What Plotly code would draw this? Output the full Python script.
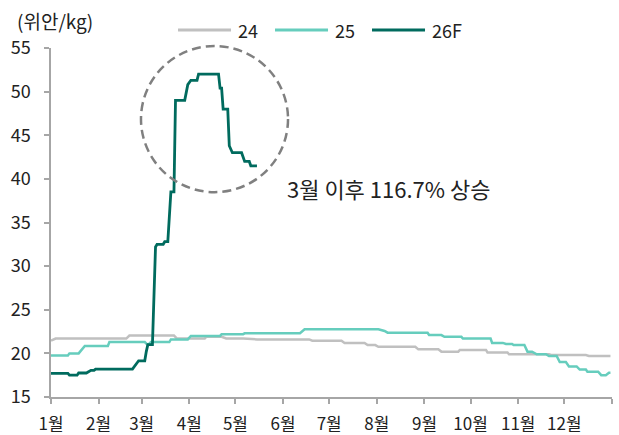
import plotly.graph_objects as go

# Seasons are overlaid on a common calendar year (non-leap)
BASE_YEAR = 2026

# 24 season: (month-day, price in CNY/kg)
days_24 = ["01-01", "01-04", "02-19", "02-21", "03-22", "03-24", "04-11", "04-12",
           "04-22", "04-25", "05-06", "05-15", "06-18", "06-20", "07-09", "07-11",
           "07-24", "07-26", "07-31", "08-02", "08-26", "08-28", "09-10", "09-12",
           "09-23", "09-24", "10-11", "10-12", "10-25", "10-26", "11-21", "11-23",
           "12-15", "12-17", "12-31"]
price_24 = [21.45, 21.7, 21.7, 22.05, 22.05, 21.7, 21.7, 21.9,
            21.9, 21.7, 21.7, 21.6, 21.6, 21.45, 21.45, 21.2,
            21.2, 20.95, 20.95, 20.76, 20.76, 20.46, 20.46, 20.2,
            20.2, 20.4, 20.4, 20.1, 20.1, 19.9, 19.9, 19.8,
            19.8, 19.7, 19.7]

# 25 season
days_25 = ["01-01", "01-12", "01-13", "01-19", "01-23", "02-07", "02-08", "03-03",
           "03-05", "03-07", "03-19", "03-20", "03-31", "04-02", "04-21", "04-22",
           "05-06", "05-07", "06-12", "06-15", "08-02", "08-06", "08-08", "09-03",
           "09-04", "09-12", "09-14", "09-25", "09-26", "10-14", "10-15", "10-22",
           "10-24", "10-28", "10-29", "11-05", "11-07", "11-10", "11-13", "11-19",
           "11-21", "11-26", "11-28", "12-02", "12-04", "12-09", "12-11", "12-15",
           "12-16", "12-23", "12-25", "12-28", "12-30", "12-31"]
price_25 = [19.75, 19.75, 20.0, 20.0, 20.85, 20.85, 21.3, 21.3,
            20.95, 21.3, 21.3, 21.6, 21.6, 22.0, 22.0, 22.2,
            22.2, 22.3, 22.3, 22.76, 22.76, 22.57, 22.37, 22.37,
            22.1, 22.1, 21.9, 21.9, 21.7, 21.7, 21.2, 21.2,
            21.07, 21.07, 20.95, 20.95, 20.2, 20.2, 19.9, 19.9,
            19.7, 19.7, 19.0, 19.0, 18.5, 18.5, 18.15, 18.15,
            17.9, 17.9, 17.5, 17.5, 17.77, 17.77]

# 26F season (year to date)
days_26 = ["01-01", "01-12", "01-13", "01-18", "01-19", "01-24", "01-27", "01-29",
           "01-30", "02-23", "02-27", "03-03", "03-04", "03-05", "03-07", "03-08",
           "03-10", "03-11", "03-15", "03-16", "03-18", "03-20", "03-22", "03-23",
           "03-29", "03-31", "04-02", "04-06", "04-07", "04-20", "04-21", "04-22",
           "04-23", "04-26", "04-27", "04-29", "05-05", "05-07", "05-10", "05-11",
           "05-15"]
price_26 = [17.7, 17.7, 17.5, 17.5, 17.75, 17.75, 18.05, 18.05,
            18.2, 18.2, 19.15, 19.15, 20.2, 21.0, 21.0, 21.0,
            32.2, 32.5, 32.5, 32.8, 32.8, 38.5, 38.5, 49.0,
            49.0, 50.8, 51.3, 51.3, 52.0, 52.0, 50.4, 50.4,
            48.0, 48.0, 43.8, 43.0, 43.0, 42.0, 42.0, 41.5,
            41.5]

series_names = ["24", "25", "26F"]
series_colors = ["#c0c0c0", "#66cdbd", "#006b5e"]
series_widths = [2.5, 2.5, 2.8]

month_labels = ["1월", "2월", "3월", "4월", "5월", "6월",
                "7월", "8월", "9월", "10월", "11월", "12월"]
y_ticks = [15, 20, 25, 30, 35, 40, 45, 50, 55]

annotation_text = "3월 이후 116.7% 상승"
unit_text = "(위안/kg)"

FONT = "Noto Sans CJK KR, Noto Sans, sans-serif"
TEXT_COLOR = "#222222"
AXIS_COLOR = "#a6a6a6"


def to_dates(md_list):
    return [f"{BASE_YEAR}-{md}" for md in md_list]


fig = go.Figure()
for days, prices, name, color, width in zip(
        [days_24, days_25, days_26], [price_24, price_25, price_26],
        series_names, series_colors, series_widths):
    fig.add_trace(go.Scatter(
        x=to_dates(days), y=prices, name=name, mode="lines",
        line=dict(color=color, width=width), showlegend=False,
        hoverinfo="x+y+name",
    ))

month_starts = [f"{BASE_YEAR}-{m:02d}-01" for m in range(1, 13)] + [f"{BASE_YEAR + 1}-01-01"]

fig.update_xaxes(
    type="date", automargin=False,
    range=[f"{BASE_YEAR}-01-01", f"{BASE_YEAR + 1}-01-01"],
    tickmode="array", tickvals=month_starts, ticktext=month_labels + [""],
    showgrid=False, zeroline=False,
    showline=True, linecolor=AXIS_COLOR, linewidth=1.5,
    ticks="outside", ticklen=5, tickcolor=AXIS_COLOR, tickwidth=1.5,
    tickfont=dict(family=FONT, size=17, color=TEXT_COLOR),
    ticklabelstandoff=6,
)
fig.update_yaxes(
    range=[15, 55], automargin=False,
    tickmode="array", tickvals=y_ticks,
    showgrid=False, zeroline=False,
    showline=True, linecolor=AXIS_COLOR, linewidth=1.5,
    ticks="outside", ticklen=5, tickcolor=AXIS_COLOR, tickwidth=1.5,
    tickfont=dict(family=FONT, size=18, color=TEXT_COLOR),
    ticklabelstandoff=10,
)

# Dashed circle highlighting the 26F spike
fig.add_shape(
    type="circle", xref="paper", yref="paper",
    x0=0.1604, x1=0.4225, y0=0.587, y1=1.0057,
    line=dict(color="#808080", width=2.5, dash="9px,5px"),
)

# Manual legend: line swatch + label
legend_y = 1.0516
swatches = [(0.2264, 0.3209, 0.3298), (0.3993, 0.4938, 0.5027), (0.5722, 0.6667, 0.6756)]
for (x0, x1, xt), name, color in zip(swatches, series_names, series_colors):
    fig.add_shape(type="line", xref="paper", yref="paper",
                  x0=x0, x1=x1, y0=legend_y, y1=legend_y,
                  line=dict(color=color, width=3))
    fig.add_annotation(x=xt, y=legend_y, xref="paper", yref="paper",
                       text=name, showarrow=False, xanchor="left", yanchor="middle",
                       font=dict(family=FONT, size=18, color=TEXT_COLOR))

fig.add_annotation(x=-0.064, y=1.078, xref="paper", yref="paper",
                   text=unit_text, showarrow=False, xanchor="left", yanchor="middle",
                   font=dict(family=FONT, size=19, color=TEXT_COLOR))

fig.add_annotation(x=0.418, y=0.598, xref="paper", yref="paper",
                   text=annotation_text, showarrow=False, xanchor="left", yanchor="middle",
                   font=dict(family=FONT, size=22, color=TEXT_COLOR))

fig.update_layout(
    width=619, height=435,
    margin=dict(l=51, r=7, t=48, b=38),
    paper_bgcolor="white", plot_bgcolor="white",
    font=dict(family=FONT, color=TEXT_COLOR),
)

fig.write_html("out.html")
